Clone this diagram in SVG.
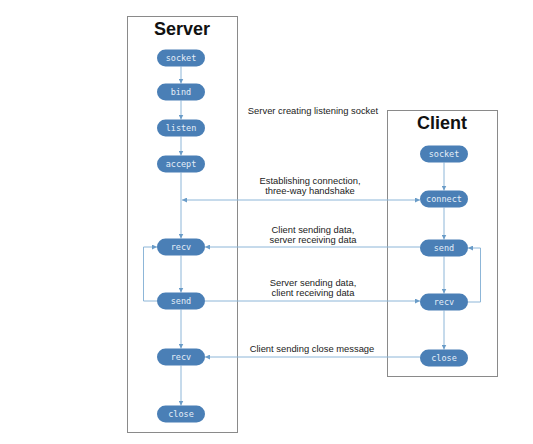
<svg xmlns="http://www.w3.org/2000/svg" width="533" height="444" viewBox="0 0 533 444">
<style>
.box{fill:#fff;stroke:#8a8a8a;stroke-width:1}
.title{font-family:"Liberation Sans",Arial,sans-serif;font-weight:bold;font-size:18px;fill:#111;text-anchor:middle}
.node rect{fill:#4a7fb6;stroke:none}
.node text{font-family:"DejaVu Sans Mono",monospace;font-size:8.5px;fill:#e4eef8;text-anchor:middle}
.lbl{font-family:"Liberation Sans",Arial,sans-serif;font-size:9.4px;fill:#222;text-anchor:middle}
.c{fill:none;stroke:#8db6d8;stroke-width:1}
</style>
<defs>
<marker id="ah" viewBox="0 0 6 6" refX="6" refY="3" markerWidth="5" markerHeight="5" orient="auto-start-reverse" markerUnits="userSpaceOnUse">
<path d="M0,0 L6,3 L0,6 z" fill="#6a9cc8"/>
</marker>
</defs>
<rect width="533" height="444" fill="#fff"/>
<g id="server-box"><rect class="box" x="127.5" y="16.5" width="110" height="416"/><text class="title" x="182" y="35">Server</text></g>
<g id="client-box"><rect class="box" x="387.5" y="110.5" width="110" height="266"/><text class="title" x="442" y="129">Client</text></g>
<g id="connectors">
<line class="c" x1="181" y1="66.5" x2="181" y2="83.5" marker-end="url(#ah)"/>
<line class="c" x1="181" y1="100.5" x2="181" y2="119.5" marker-end="url(#ah)"/>
<line class="c" x1="181" y1="136.5" x2="181" y2="155.5" marker-end="url(#ah)"/>
<line class="c" x1="181" y1="172.5" x2="181" y2="238.5" marker-end="url(#ah)"/>
<line class="c" x1="181" y1="255.5" x2="181" y2="292.5" marker-end="url(#ah)"/>
<line class="c" x1="181" y1="309.5" x2="181" y2="348.5" marker-end="url(#ah)"/>
<line class="c" x1="181" y1="365.5" x2="181" y2="405.5" marker-end="url(#ah)"/>
<line class="c" x1="444" y1="162.5" x2="444" y2="190.5" marker-end="url(#ah)"/>
<line class="c" x1="444" y1="207.5" x2="444" y2="239.5" marker-end="url(#ah)"/>
<line class="c" x1="444" y1="256.5" x2="444" y2="293.5" marker-end="url(#ah)"/>
<line class="c" x1="444" y1="310.5" x2="444" y2="349.5" marker-end="url(#ah)"/>
<line class="c" x1="182" y1="200" x2="420" y2="200" marker-start="url(#ah)" marker-end="url(#ah)"/>
<line class="c" x1="420" y1="247" x2="205" y2="247" marker-end="url(#ah)"/>
<path class="c" d="M157,301 H143.5 V247 H157" marker-end="url(#ah)"/>
<line class="c" x1="205" y1="301" x2="420" y2="301" marker-end="url(#ah)"/>
<path class="c" d="M468,302 H480.5 V248 H468" marker-end="url(#ah)"/>
<line class="c" x1="420" y1="357" x2="205" y2="357" marker-end="url(#ah)"/>
</g>
<g id="s-socket" class="node"><rect x="157" y="49.5" width="48" height="17" rx="8.5"/><text x="181" y="61">socket</text></g>
<g id="s-bind" class="node"><rect x="157" y="83.5" width="48" height="17" rx="8.5"/><text x="181" y="95">bind</text></g>
<g id="s-listen" class="node"><rect x="157" y="119.5" width="48" height="17" rx="8.5"/><text x="181" y="131">listen</text></g>
<g id="s-accept" class="node"><rect x="157" y="155.5" width="48" height="17" rx="8.5"/><text x="181" y="167">accept</text></g>
<g id="s-recv1" class="node"><rect x="157" y="238.5" width="48" height="17" rx="8.5"/><text x="181" y="250">recv</text></g>
<g id="s-send" class="node"><rect x="157" y="292.5" width="48" height="17" rx="8.5"/><text x="181" y="304">send</text></g>
<g id="s-recv2" class="node"><rect x="157" y="348.5" width="48" height="17" rx="8.5"/><text x="181" y="360">recv</text></g>
<g id="s-close" class="node"><rect x="157" y="405.5" width="48" height="17" rx="8.5"/><text x="181" y="417">close</text></g>
<g id="c-socket" class="node"><rect x="420" y="145.5" width="48" height="17" rx="8.5"/><text x="444" y="157">socket</text></g>
<g id="c-connect" class="node"><rect x="420" y="190.5" width="48" height="17" rx="8.5"/><text x="444" y="202">connect</text></g>
<g id="c-send" class="node"><rect x="420" y="239.5" width="48" height="17" rx="8.5"/><text x="444" y="251">send</text></g>
<g id="c-recv" class="node"><rect x="420" y="293.5" width="48" height="17" rx="8.5"/><text x="444" y="305">recv</text></g>
<g id="c-close" class="node"><rect x="420" y="349.5" width="48" height="17" rx="8.5"/><text x="444" y="361">close</text></g>
<g id="labels">
<text class="lbl" x="313" y="114">Server creating listening socket</text>
<text class="lbl" x="310" y="184">Establishing connection,</text>
<text class="lbl" x="310" y="194">three-way handshake</text>
<text class="lbl" x="313" y="233">Client sending data,</text>
<text class="lbl" x="313" y="243">server receiving data</text>
<text class="lbl" x="313" y="286">Server sending data,</text>
<text class="lbl" x="313" y="296">client receiving data</text>
<text class="lbl" x="312" y="352">Client sending close message</text>
</g>
</svg>
